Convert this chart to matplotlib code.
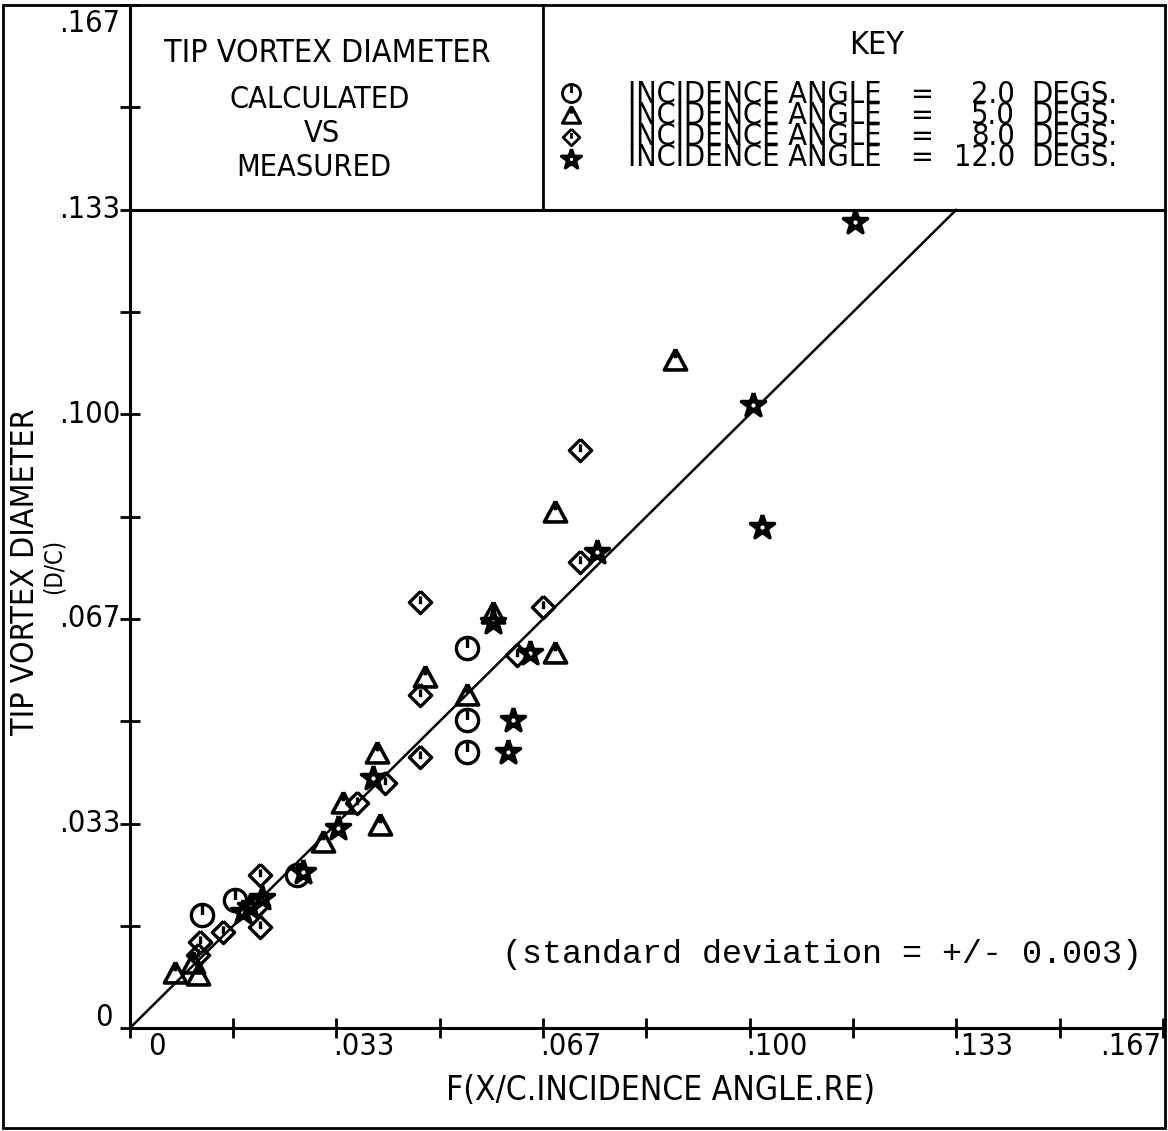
import math
import matplotlib
matplotlib.use("Agg")
import matplotlib.pyplot as plt
from matplotlib.path import Path
from matplotlib import font_manager
from matplotlib.transforms import ScaledTranslation
from matplotlib.patches import Rectangle
from matplotlib.lines import Line2D

# ---------------- data ----------------
axis_ticks = [0.0, 0.0167, 0.0333, 0.05, 0.0667, 0.0833, 0.1, 0.1167, 0.1333, 0.15, 0.1667]
major_ticks = [0.0, 0.0333, 0.0667, 0.1, 0.1333, 0.1667]
major_labels = ["0", ".033", ".067", ".100", ".133", ".167"]

circ_x = [0.0116, 0.0169, 0.0269, 0.0544, 0.0544, 0.0544]
circ_y = [0.0184, 0.0209, 0.0249, 0.0619, 0.0502, 0.0450]

tri_x = [0.0073, 0.0110, 0.0102, 0.0311, 0.0344, 0.0403, 0.0399, 0.0476, 0.0544,
         0.0586, 0.0686, 0.0686, 0.0879]
tri_y = [0.0090, 0.0086, 0.0106, 0.0303, 0.0367, 0.0331, 0.0448, 0.0572, 0.0543,
         0.0676, 0.0611, 0.0841, 0.1088]

dia_x = [0.0110, 0.0113, 0.0150, 0.0210, 0.0210, 0.0207, 0.0366, 0.0411, 0.0468,
         0.0468, 0.0468, 0.0624, 0.0666, 0.0726, 0.0726]
dia_y = [0.0119, 0.0140, 0.0156, 0.0249, 0.0165, 0.0200, 0.0367, 0.0399, 0.0442,
         0.0543, 0.0694, 0.0608, 0.0686, 0.0759, 0.0942]

star_x = [0.0182, 0.0194, 0.0213, 0.0279, 0.0336, 0.0392, 0.0586, 0.0645, 0.0618,
          0.0610, 0.0753, 0.1005, 0.1020, 0.1170]
star_y = [0.0189, 0.0197, 0.0212, 0.0254, 0.0326, 0.0407, 0.0661, 0.0611, 0.0502,
          0.0450, 0.0776, 0.1015, 0.0816, 0.1313]

fit_x = [0.0, 0.1333]
fit_y = [0.0, 0.1333]

angle_values = ["2.0", "5.0", "8.0", "12.0"]
box_divider_x = 0.0667
box_bottom_y = 0.1333

# ---------------- fonts ----------------
available = {f.name for f in font_manager.fontManager.ttflist}
if "Liberation Sans Narrow" in available:
    FONT = dict(family="Liberation Sans Narrow")
    FS = 28
    TFS = 26
else:
    FONT = dict(family="DejaVu Sans", stretch="condensed")
    FS = 23
    TFS = 22
MONO = "Liberation Mono" if "Liberation Mono" in available else "DejaVu Sans Mono"

W, H = 1168, 1131
fig = plt.figure(figsize=(W / 100, H / 100), dpi=100)


def fx(px):
    return px / W


def fy(py):
    return 1 - py / H


ax = fig.add_axes([fx(130), fy(1028), (1163 - 130) / W, (1028 - 5) / H])
ax.set_xlim(0, 0.1667)
ax.set_ylim(0, 0.1667)
for s in ("top", "right"):
    ax.spines[s].set_visible(False)
for s in ("left", "bottom"):
    ax.spines[s].set_linewidth(2.2)

ax.set_xticks(major_ticks, major_labels)
ax.set_yticks(major_ticks, major_labels)
ax.set_xticks(axis_ticks, minor=True)
ax.set_yticks(axis_ticks, minor=True)
ax.tick_params(axis="both", which="both", direction="inout", length=15, width=2,
               pad=0, labelsize=TFS)
for lab in ax.get_xticklabels() + ax.get_yticklabels():
    lab.set_fontfamily(FONT["family"])
    if "stretch" in FONT:
        lab.set_fontstretch(FONT["stretch"])

# label offsets (pixels)
xl = ax.get_xticklabels()
for i, lab in enumerate(xl):
    dx = 27 if i < len(xl) - 1 else -32
    lab.set_transform(lab.get_transform() + ScaledTranslation(dx / 100, 6 / 100, fig.dpi_scale_trans))
yl = ax.get_yticklabels()
for i, lab in enumerate(yl):
    lab.set_verticalalignment("center")
    dx, dy = 1, 0
    if i == 0:
        dx, dy = -7, 11
    elif i == len(yl) - 1:
        dy = -18
    lab.set_transform(lab.get_transform() + ScaledTranslation(dx / 100, dy / 100, fig.dpi_scale_trans))

# ---------------- markers ----------------
circle_m = Path.make_compound_path(Path.unit_circle(), Path([(0, 0.05), (0, 1)]))
tri_m = Path.make_compound_path(
    Path([(0, 1), (-1, -0.85), (1, -0.85), (0, 1)]),
    Path([(0, 1), (0, 0.2)]))
dia_m = Path.make_compound_path(
    Path([(0, 1), (1, 0), (0, -1), (-1, 0), (0, 1)]),
    Path([(0, -0.15), (0, 0.55)]))
pts = [(math.cos(math.radians(90 + 144 * k)), math.sin(math.radians(90 + 144 * k))) for k in range(6)]
star_m = Path(pts)

mk = dict(ls="none", mfc="none", mec="black", clip_on=False, zorder=4)
ax.plot(circ_x, circ_y, marker=circle_m, ms=16, mew=2.4, **mk)
ax.plot(tri_x, tri_y, marker=tri_m, ms=16, mew=2.6, **mk)
ax.plot(dia_x, dia_y, marker=dia_m, ms=16, mew=2.4, **mk)
ax.plot(star_x, star_y, marker=star_m, ms=18, mew=2.7, **mk)

# fit line y = x
ax.plot(fit_x, fit_y, color="black", lw=1.8, zorder=3)

# header box
ax.plot([0, 0.1667], [box_bottom_y, box_bottom_y], color="black", lw=2.2, clip_on=False)
ax.plot([box_divider_x, box_divider_x], [box_bottom_y, 0.1667], color="black", lw=2, clip_on=False)

# figure border
fig.add_artist(Rectangle((fx(3), fy(1128)), fx(1165) - fx(3), fy(5) - fy(1128),
                         transform=fig.transFigure, fill=False, lw=2, ec="black"))

# ---------------- texts ----------------
def ftext(px, py, s, size=FS, ha="center", va="center", **kw):
    fig.text(fx(px), fy(py), s, fontsize=size, ha=ha, va=va, **FONT, **kw)


ftext(327, 54, "TIP VORTEX DIAMETER")
ftext(320, 100, "CALCULATED", size=FS - 1)
ftext(322, 133, "VS", size=FS - 1)
ftext(314, 167, "MEASURED", size=FS - 1)
ftext(877, 46, "KEY")

rows_y = [93, 115, 137, 159]
key_markers = [(circle_m, 13, 2.0), (tri_m, 13, 2.2), (dia_m, 12, 2.0), (star_m, 15, 2.4)]
for (m, ms, mw), yy in zip(key_markers, rows_y):
    fig.add_artist(Line2D([fx(571)], [fy(yy)], transform=fig.transFigure, marker=m,
                          ms=ms, mew=mw, mfc="none", mec="black", ls="none"))
ymid = sum(rows_y) / len(rows_y)
KFS = FS - 1
LS = 0.66
ftext(628, ymid, "\n".join(["INCIDENCE ANGLE"] * 4), size=KFS, ha="left", linespacing=LS)
ftext(922, ymid, "\n".join(["="] * 4), size=KFS, linespacing=LS)
ftext(1015, ymid, "\n".join(angle_values), size=KFS, ha="right", multialignment="right",
      linespacing=LS)
ftext(1031, ymid, "\n".join(["DEGS."] * 4), size=KFS, ha="left", linespacing=LS)

# axis titles
ftext(660, 1090, "F(X/C.INCIDENCE ANGLE.RE)", size=FS + 1)
ftext(26, 572, "TIP VORTEX DIAMETER", rotation=90)
ftext(54, 566, "(D/C)", size=FS - 6, rotation=90)

fig.text(fx(822), fy(955), "(standard deviation = +/- 0.003)", fontsize=24,
         family=MONO, ha="center", va="center")

fig.savefig("out.png", dpi=100, facecolor="white")
